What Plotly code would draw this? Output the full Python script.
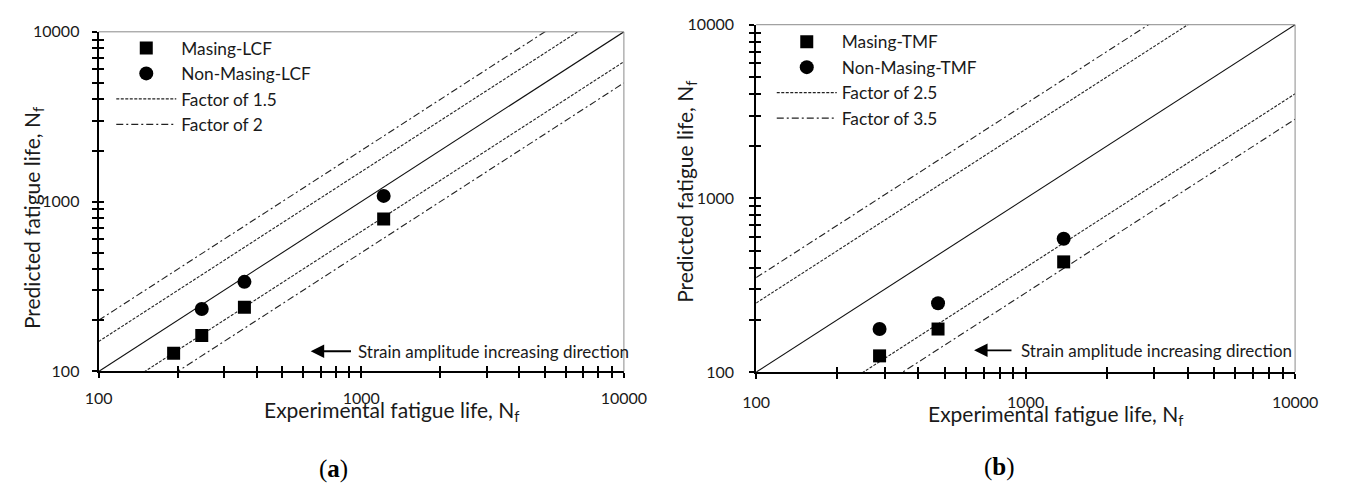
import plotly.graph_objects as go

# ---------------- data ----------------
lcf_exp_masing = [193, 247, 359, 1217]
lcf_pred_masing = [128, 163, 239, 791]
lcf_exp_nonmasing = [247, 359, 1217]
lcf_pred_nonmasing = [233, 337, 1081]

tmf_exp_masing = [287, 473, 1384]
tmf_pred_masing = [124, 177, 431]
tmf_exp_nonmasing = [287, 473, 1384]
tmf_pred_nonmasing = [177, 249, 586]

factors_a = [1.5, 2]
factors_b = [2.5, 3.5]
line_x = [100, 10000]

major_ticks = [100, 1000, 10000]
major_labels = ["100", "1000", "10000"]
minor_ticks = [200, 300, 400, 500, 600, 700, 800, 900,
               2000, 3000, 4000, 5000, 6000, 7000, 8000, 9000]

W, H = 1357, 490
FONT = "Lato"
TXT = "#1a1a1a"

# pixel geometry of the two panels
PA = dict(l=87, r=627, t=22.7, b=376)
PB = dict(l=763, r=1317, t=15.3, b=376.7)


def dom_x(p):
    return [p["l"] / W, p["r"] / W]


def dom_y(p):
    return [(H - p["b"]) / H, (H - p["t"]) / H]


fig = go.Figure()

dash_fine = "3px,1.5px"
dash_dot = "7px,3px,2px,3px"


def add_panel(xa, ya, leg, exp_m, pred_m, exp_n, pred_n, names, factors):
    # 1:1 line
    fig.add_trace(go.Scatter(x=line_x, y=line_x, mode="lines",
                             line=dict(color="#111", width=1.1),
                             xaxis=xa, yaxis=ya, showlegend=False, hoverinfo="skip"))
    dashes = [dash_fine, dash_dot]
    for f, d, nm in zip(factors, dashes, names[2:]):
        fig.add_trace(go.Scatter(x=line_x, y=[v * f for v in line_x], mode="lines",
                                 line=dict(color="#222", width=1.1, dash=d),
                                 xaxis=xa, yaxis=ya, name=nm, legend=leg,
                                 legendrank=3 if f == factors[0] else 4))
        fig.add_trace(go.Scatter(x=line_x, y=[v / f for v in line_x], mode="lines",
                                 line=dict(color="#222", width=1.1, dash=d),
                                 xaxis=xa, yaxis=ya, showlegend=False, hoverinfo="skip"))
    fig.add_trace(go.Scatter(x=exp_m, y=pred_m, mode="markers", name=names[0],
                             marker=dict(symbol="square", size=13, color="black"),
                             xaxis=xa, yaxis=ya, legend=leg, legendrank=1))
    fig.add_trace(go.Scatter(x=exp_n, y=pred_n, mode="markers", name=names[1],
                             marker=dict(symbol="circle", size=14, color="black"),
                             xaxis=xa, yaxis=ya, legend=leg, legendrank=2))


add_panel("x", "y", "legend", lcf_exp_masing, lcf_pred_masing,
          lcf_exp_nonmasing, lcf_pred_nonmasing,
          ["Masing-LCF", "Non-Masing-LCF", "Factor of 1.5", "Factor of 2"], factors_a)
add_panel("x2", "y2", "legend2", tmf_exp_masing, tmf_pred_masing,
          tmf_exp_nonmasing, tmf_pred_nonmasing,
          ["Masing-TMF", "Non-Masing-TMF", "Factor of 2.5", "Factor of 3.5"], factors_b)

# invisible traces to activate overlay axes (inside ticks)
fig.add_trace(go.Scatter(x=[], y=[], xaxis="x3", yaxis="y3", showlegend=False))
fig.add_trace(go.Scatter(x=[], y=[], xaxis="x4", yaxis="y4", showlegend=False))


def main_axis(domain, anchor, standoff):
    return dict(domain=domain, anchor=anchor, type="log", range=[2, 4],
                showline=True, linecolor="black", linewidth=2,
                ticks="outside", ticklen=5, tickwidth=1.6, tickcolor="black",
                tickmode="array", tickvals=major_ticks, ticktext=major_labels,
                minor=dict(ticks="outside", ticklen=5, tickwidth=1.6, tickcolor="black",
                           tickvals=minor_ticks, showgrid=False),
                showgrid=False, zeroline=False, ticklabelstandoff=standoff,
                tickfont=dict(family=FONT, size=16, color=TXT))


def overlay_axis(over, anchor):
    return dict(overlaying=over, anchor=anchor, type="log", range=[2, 4],
                showline=False, ticks="inside", ticklen=5, tickwidth=1.6,
                tickcolor="black", tickmode="array", tickvals=major_ticks,
                showticklabels=False,
                minor=dict(ticks="inside", ticklen=5, tickwidth=1.6, tickcolor="black",
                           tickvals=minor_ticks, showgrid=False),
                showgrid=False, zeroline=False)


fig.update_layout(
    width=W, height=H, margin=dict(l=0, r=0, t=0, b=0),
    paper_bgcolor="white", plot_bgcolor="white",
    xaxis=main_axis(dom_x(PA), "y", 6),
    yaxis=main_axis(dom_y(PA), "x", 9),
    xaxis2=main_axis(dom_x(PB), "y2", 10),
    yaxis2=main_axis(dom_y(PB), "x2", 12),
    xaxis3=overlay_axis("x", "y3"),
    yaxis3=overlay_axis("y", "x3"),
    xaxis4=overlay_axis("x2", "y4"),
    yaxis4=overlay_axis("y2", "x4"),
    legend=dict(x=100 / W, y=1 - 21 / H, xanchor="left", yanchor="top",
                bgcolor="rgba(0,0,0,0)", font=dict(family=FONT, size=17.3, color=TXT),
                itemwidth=60, tracegroupgap=0),
    legend2=dict(x=779 / W, y=1 - 14.5 / H, xanchor="left", yanchor="top",
                 bgcolor="rgba(0,0,0,0)", font=dict(family=FONT, size=17.3, color=TXT),
                 itemwidth=60, tracegroupgap=0),
    showlegend=True,
)

# frame (top / right light border)
for xr, yr in [("x domain", "y domain"), ("x2 domain", "y2 domain")]:
    fig.add_shape(type="line", xref=xr, yref=yr, x0=0, x1=1, y0=1, y1=1,
                  line=dict(color="#8a8a8a", width=1))
    fig.add_shape(type="line", xref=xr, yref=yr, x0=1, x1=1, y0=0, y1=1,
                  line=dict(color="#8a8a8a", width=1))

# arrows + direction text
arrow_text = "Strain amplitude increasing direction"
for xr, yr, tip_x, tail_x, txt_x, yv in [
    ("x", "y", 0.4037, 0.4833, 0.4907, 0.0594),
    ("x2", "y2", 0.4043, 0.4765, 0.4874, 0.0628),
]:
    fig.add_annotation(x=tip_x, y=yv, xref=xr + " domain", yref=yr + " domain",
                       ax=tail_x, ay=yv, axref=xr + " domain", ayref=yr + " domain",
                       text="", showarrow=True,
                       arrowhead=2, arrowsize=1.5, arrowwidth=1.8, arrowcolor="black",
                       standoff=0, startstandoff=0)
    fig.add_annotation(x=txt_x, y=yv, xref=xr + " domain", yref=yr + " domain",
                       text=arrow_text, showarrow=False, xanchor="left", yanchor="middle",
                       font=dict(family=FONT, size=17, color=TXT))

# axis titles
xt = "Experimental fatigue life, N<sub>f</sub>"
yt = "Predicted fatigue life, N<sub>f</sub>"
for x, y, t, ang in [(388, 417, xt, 0), (1071, 421, xt, 0),
                     (19, 216, yt, -90), (690, 189, yt, -90)]:
    fig.add_annotation(x=x / W, y=1 - y / H, xref="paper", yref="paper",
                       text=t, showarrow=False, textangle=ang,
                       xanchor="center", yanchor="middle",
                       font=dict(family=FONT, size=21, color=TXT))

# panel labels
for x, y, t in [(328, 477, "(<b>a</b>)"), (1013, 475, "(<b>b</b>)")]:
    fig.add_annotation(x=x / W, y=1 - y / H, xref="paper", yref="paper",
                       text=t, showarrow=False, xanchor="center", yanchor="middle",
                       font=dict(family="Liberation Serif", size=25, color="black"))

fig.write_html("out.html")
